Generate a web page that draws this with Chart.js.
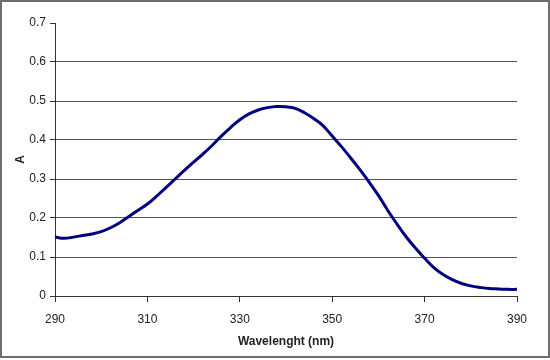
<!DOCTYPE html>
<html>
<head>
<meta charset="utf-8">
<script src="https://cdn.jsdelivr.net/npm/chart.js@4.4.0/dist/chart.umd.min.js"></script>
<style>
    body { margin: 0; background: #fff; }
    #wrap {
        width: 550px;
        height: 358px;
        box-sizing: border-box;
        border: 2px solid #6e6e6e;
        background: #fff;
    }
    #spectrumChart { display: block; }
</style>
</head>
<body>
<div id="wrap">
    <canvas id="spectrumChart" width="546" height="354"></canvas>
</div>
<script>
// Absorption spectrum data
const wavelengths = [290, 292, 294, 296, 298, 300, 302, 304, 306, 308,
    310, 312, 314, 316, 318, 320, 322, 324, 326, 328,
    330, 332, 334, 336, 338, 340, 342, 344, 346, 348,
    350, 352, 354, 356, 358, 360, 362, 364, 366, 368,
    370, 372, 374, 376, 378, 380, 382, 384, 386, 388, 390];
const absorbance = [0.151, 0.148, 0.151, 0.155, 0.159, 0.165, 0.175, 0.188, 0.204, 0.220,
    0.236, 0.256, 0.278, 0.300, 0.322, 0.343, 0.364, 0.386, 0.410, 0.432,
    0.452, 0.467, 0.477, 0.483, 0.486, 0.485, 0.481, 0.470, 0.455, 0.437,
    0.410, 0.383, 0.354, 0.324, 0.292, 0.258, 0.220, 0.185, 0.152, 0.123,
    0.097, 0.073, 0.055, 0.042, 0.032, 0.026, 0.022, 0.019, 0.018, 0.017, 0.017];
const xTicks = [290, 310, 330, 350, 370, 390];
const yTicks = [0, 0.1, 0.2, 0.3, 0.4, 0.5, 0.6, 0.7];

const points = wavelengths.map((w, i) => ({ x: w, y: absorbance[i] }));

const canvas = document.getElementById('spectrumChart');

new Chart(canvas, {
    type: 'line',
    data: {
        datasets: [{
            label: 'A',
            data: points,
            borderColor: '#000080',
            borderWidth: 3,
            pointRadius: 0,
            tension: 0.4,
            fill: false
        }]
    },
    options: {
        responsive: false,
        animation: false,
        layout: {
            padding: { top: 21, right: 31, bottom: 0, left: 0 }
        },
        plugins: {
            legend: { display: false },
            tooltip: { enabled: false }
        },
        scales: {
            x: {
                type: 'linear',
                min: 290,
                max: 390,
                afterBuildTicks: scale => {
                    scale.ticks = xTicks.map(v => ({ value: v }));
                },
                afterFit: scale => { scale.height = 60; },
                grid: {
                    drawOnChartArea: false,
                    drawTicks: true,
                    tickLength: 6,
                    tickColor: '#333',
                    color: '#333'
                },
                border: { color: '#333', width: 1 },
                ticks: {
                    color: '#222',
                    padding: 10,
                    maxRotation: 0,
                    font: { family: 'Liberation Sans', size: 12 }
                },
                title: {
                    display: true,
                    text: 'Wavelenght (nm)',
                    color: '#222',
                    padding: { top: 4, bottom: 7 },
                    font: { family: 'Liberation Sans', size: 12, weight: 'bold' }
                }
            },
            y: {
                min: 0,
                max: 0.7,
                afterBuildTicks: scale => {
                    scale.ticks = yTicks.map(v => ({ value: v }));
                },
                afterFit: scale => { scale.width = 53; },
                grid: {
                    color: ctx => (ctx.tick && (ctx.tick.value === 0 || ctx.tick.value >= 0.7)) ? 'rgba(0,0,0,0)' : '#555',
                    tickColor: '#333',
                    tickLength: 5,
                    lineWidth: 1
                },
                border: { color: '#333', width: 1 },
                ticks: {
                    color: '#222',
                    padding: 4,
                    font: { family: 'Liberation Sans', size: 12 },
                    callback: v => String(Math.round(v * 10) / 10)
                },
                title: {
                    display: true,
                    text: 'A',
                    color: '#222',
                    padding: { top: 11, bottom: 0 },
                    font: { family: 'Liberation Sans', size: 12, weight: 'bold' }
                }
            }
        }
    }
});
</script>
</body>
</html>
